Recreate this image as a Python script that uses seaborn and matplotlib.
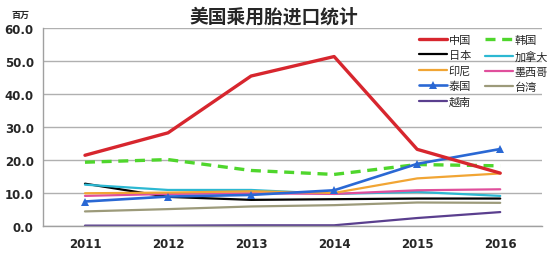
import matplotlib
matplotlib.use("Agg")
import matplotlib.pyplot as plt
import seaborn as sns
import pandas as pd
import numpy as np

years = ["2011", "2012", "2013", "2014", "2015", "2016"]
china    = [21.4, 28.2, 45.4, 51.3, 23.2, 16.0]
korea    = [19.3, 20.1, 16.8, 15.6, 18.6, 18.2]
japan    = [12.8, 8.8, 7.9, 8.1, 8.3, 8.3]
canada   = [12.5, 10.9, 10.9, 9.7, 10.3, 9.1]
india    = [9.9, 10.1, 10.5, 10.0, 14.4, 15.9]
mexico   = [9.1, 9.7, 9.9, 9.7, 10.8, 11.1]
thailand = [7.4, 8.9, 9.4, 10.8, 18.8, 23.3]
taiwan   = [4.4, 5.1, 5.9, 6.3, 7.1, 7.0]
vietnam  = [0.1, 0.1, 0.2, 0.2, 2.4, 4.2]
names = ["中国", "韩国", "日本", "加拿大", "印尼", "墨西哥", "泰国", "台湾", "越南"]
yticks = [0, 10, 20, 30, 40, 50, 60]

series = [china, korea, japan, canada, india, mexico, thailand, taiwan, vietnam]
colors = ["#d7262e", "#4fd62c", "#000000", "#2cb8d2", "#f1a534", "#e04f9c",
          "#2a68d4", "#9c9a7a", "#5a3f8e"]

rows = []
for n, s in zip(names, series):
    for i, v in enumerate(s):
        rows.append({"country": n, "x": i, "value": v})
df = pd.DataFrame(rows)

sns.set_theme(style="white")
plt.rcParams["font.family"] = ["Noto Sans CJK SC", "DejaVu Sans"]

fig = plt.figure(figsize=(5.5, 2.55), dpi=100)
ax = fig.add_axes([0.079, 0.11, 0.906, 0.777])

for y in yticks:
    ax.axhline(y, color="#b0b0b0", lw=1.0, zorder=0)

order = [7, 8, 2, 3, 5, 4, 1, 6, 0]
for k in order:
    n = names[k]
    sub = df[df.country == n]
    kw = dict(color=colors[k], lw=1.6)
    if n == "中国":
        kw["lw"] = 2.4
    if n == "韩国":
        kw.update(lw=2.4, dashes=(3, 2))
    if n == "泰国":
        kw.update(lw=1.9, marker="^", markersize=6, markeredgewidth=0)
    sns.lineplot(data=sub, x="x", y="value", ax=ax, label=n, **kw)

h, l = ax.get_legend_handles_labels()
hd = dict(zip(l, h))
leg_order = [names[i] for i in (0, 2, 4, 6, 8, 1, 3, 5, 7)]
leg = ax.legend([hd[n] for n in leg_order], leg_order, ncol=2, loc="upper left",
                bbox_to_anchor=(0.745, 0.985), frameon=False, fontsize=8,
                handlelength=2.5, handletextpad=0.15, columnspacing=1.3,
                labelspacing=0.45, borderaxespad=0.2, borderpad=0.2)

ax.set_xlim(-0.48, 5.48)
ax.set_ylim(0, 60)
ax.set_yticks(yticks)
ax.set_yticklabels([f"{v:.1f}" for v in yticks], fontsize=8.5, fontweight="bold",
                   family="DejaVu Sans")
ax.set_xticks(range(len(years)))
ax.set_xticklabels(years, fontsize=8.5, fontweight="bold", family="DejaVu Sans")
ax.set_xticks(np.arange(-0.5, 6, 1), minor=True)
ax.tick_params(axis="x", which="major", length=0, pad=8)
ax.tick_params(axis="x", which="minor", length=4, color="#a0a0a0", width=1, direction="out")
ax.tick_params(axis="y", length=4, color="#a0a0a0", pad=3)
ax.set_xlabel("")
ax.set_ylabel("")
for s in ["top", "right"]:
    ax.spines[s].set_visible(False)
for s in ["left", "bottom"]:
    ax.spines[s].set_color("#a0a0a0")
    ax.spines[s].set_linewidth(1.0)

fig.text(0.497, 0.935, "美国乘用胎进口统计", ha="center", va="center",
         fontsize=13.5, fontweight="bold")
fig.text(0.038, 0.94, "百万", ha="center", va="center", fontsize=6.5, fontweight="bold")

fig.savefig("out.png", dpi=100)
